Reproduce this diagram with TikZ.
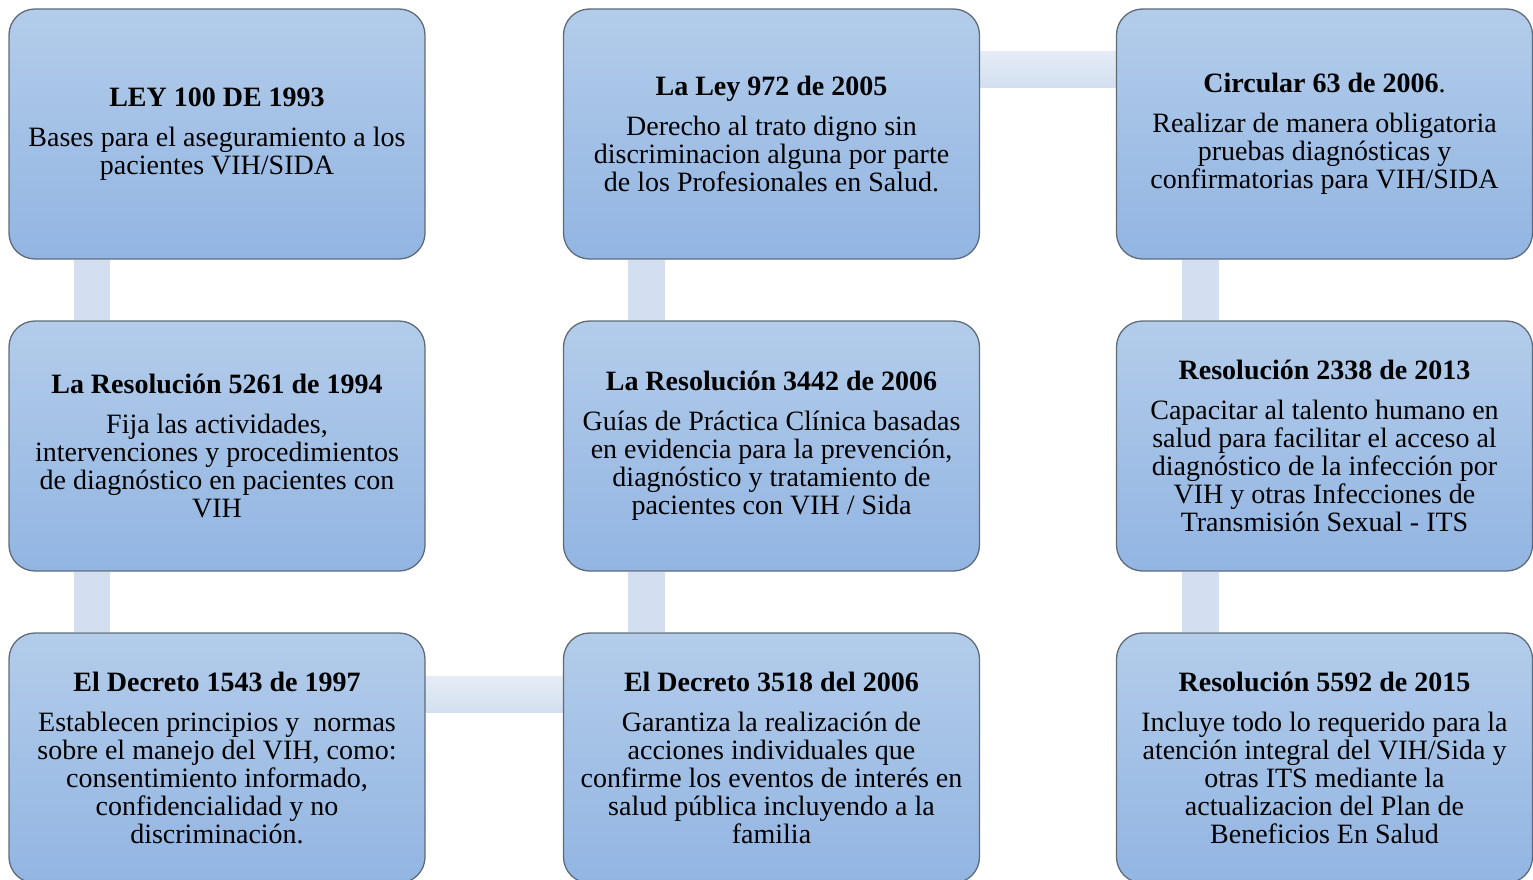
\documentclass[tikz,border=0pt]{standalone}
\usepackage{fontspec}
\setmainfont{Liberation Serif}
\definecolor{boxtop}{HTML}{B3CCEA}
\definecolor{boxbot}{HTML}{92B5E2}
\definecolor{boxline}{HTML}{5F6B78}
\definecolor{barc}{HTML}{D3DFF0}
\definecolor{bartop}{HTML}{E5ECF6}
\pgfdeclarelayer{background}
\pgfsetlayers{background,main}
\begin{document}
\begin{tikzpicture}[x=1pt,y=-1pt,
  box/.style={draw=boxline, line width=1.3pt, rounded corners=26pt,
    top color=boxtop, bottom color=boxbot,
    minimum width=416pt, minimum height=250pt, inner sep=0pt,
    align=center, font=\fontsize{28}{28}\selectfont},
  vbar/.style={fill=barc, draw=none},
  hbar/.style={top color=bartop, bottom color=barc, draw=none}]
\useasboundingbox (0,0) rectangle (1533,880);
\clip (0,0) rectangle (1533,880);

\node[box] (a1) at (217,134) {\textbf{LEY 100 DE 1993}\\[12pt]Bases para el aseguramiento a los\\pacientes VIH/SIDA};
\node[box] (b1) at (771.5,134) {\textbf{La Ley 972 de 2005}\\[12pt]Derecho al trato digno sin\\discriminacion alguna por parte\\de los Profesionales en Salud.};
\node[box] (c1) at (1324.5,134) {\textbf{Circular 63 de 2006}.\\[12pt]Realizar de manera obligatoria\\pruebas diagnósticas y\\confirmatorias para VIH/SIDA};

\node[box] (a2) at (217,446) {\textbf{La Resolución 5261 de 1994}\\[12pt]Fija las actividades,\\intervenciones y procedimientos\\de diagnóstico en pacientes con\\VIH};
\node[box] (b2) at (771.5,446) {\textbf{La Resolución 3442 de 2006}\\[12pt]Guías de Práctica Clínica basadas\\en evidencia para la prevención,\\diagnóstico y tratamiento de\\pacientes con VIH / Sida};
\node[box] (c2) at (1324.5,446) {\textbf{Resolución 2338 de 2013}\\[12pt]Capacitar al talento humano en\\salud para facilitar el acceso al\\diagnóstico de la infección por\\VIH y otras Infecciones de\\Transmisión Sexual - ITS};

\node[box] (a3) at (217,758) {\textbf{El Decreto 1543 de 1997}\\[12pt]Establecen principios y\ \ normas\\sobre el manejo del VIH, como:\\consentimiento informado,\\confidencialidad y no\\discriminación.};
\node[box] (b3) at (771.5,758) {\textbf{El Decreto 3518 del 2006}\\[12pt]Garantiza la realización de\\acciones individuales que\\confirme los eventos de interés en\\salud pública incluyendo a la\\familia};
\node[box] (c3) at (1324.5,758) {\textbf{Resolución 5592 de 2015}\\[12pt]Incluye todo lo requerido para la\\atención integral del VIH/Sida y\\otras ITS mediante la\\actualizacion del Plan de\\Beneficios En Salud};

\begin{pgfonlayer}{background}
\fill[vbar] ([xshift=66pt]a1.south west) rectangle ([xshift=102pt]a2.north west);
\fill[vbar] ([xshift=66pt]a2.south west) rectangle ([xshift=102pt]a3.north west);
\fill[vbar] ([xshift=65pt]b1.south west) rectangle ([xshift=102pt]b2.north west);
\fill[vbar] ([xshift=65pt]b2.south west) rectangle ([xshift=102pt]b3.north west);
\fill[vbar] ([xshift=66pt]c1.south west) rectangle ([xshift=103pt]c2.north west);
\fill[vbar] ([xshift=66pt]c2.south west) rectangle ([xshift=103pt]c3.north west);
\shade[hbar] ([yshift=-44pt]a3.north east) rectangle ([yshift=-80pt]b3.north west);
\shade[hbar] ([yshift=-43pt]b1.north east) rectangle ([yshift=-79pt]c1.north west);
\end{pgfonlayer}
\end{tikzpicture}
\end{document}
